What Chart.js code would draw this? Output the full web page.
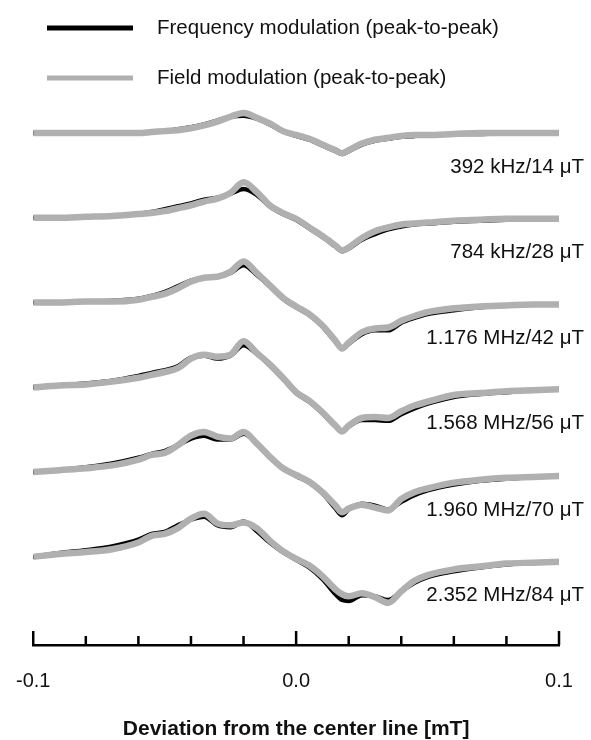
<!DOCTYPE html>
<html>
<head>
<meta charset="utf-8">
<script src="https://cdn.jsdelivr.net/npm/chart.js@4.4.1/dist/chart.umd.min.js"></script>
<style>
  html, body { margin: 0; padding: 0; background: #fff; }
</style>
</head>
<body>
<canvas id="myChart" width="591" height="740"></canvas>
<script>
// field axis, mT from the center line
let xValues = [-0.1, -0.09, -0.08, -0.07, -0.06, -0.055, -0.05, -0.045, -0.04, -0.035, -0.03, -0.025,
               -0.02, -0.015, -0.01, -0.005, 0, 0.005, 0.01, 0.015, 0.0175, 0.02, 0.025, 0.03,
               0.035, 0.04, 0.045, 0.05, 0.06, 0.07, 0.08, 0.09, 0.1];

let modLabels = ["392 kHz/14 \u03bcT", "784 kHz/28 \u03bcT", "1.176 MHz/42 \u03bcT",
                 "1.568 MHz/56 \u03bcT", "1.960 MHz/70 \u03bcT", "2.352 MHz/84 \u03bcT"];

// frequency modulation signal (black), one list per trace
let freqMod = [
  [0, 0, 0, 0, 0, 1, 2, 4, 6, 9, 13, 17, 18, 15, 9, 2, -3, -7, -13, -19, -22, -19, -12, -8, -6, -4, -3, -2, -1, -1, 0, 0, 0],
  [0, 0, 1, 2, 4, 6, 9, 12, 15, 19, 21, 25, 30, 24, 12, 4, -2, -11, -20, -30, -35, -32, -23, -17, -12, -9, -7, -6, -4, -3, -2, -1, -1],
  [0, 0, 1, 2, 4, 7, 11, 17, 23, 26, 27, 31, 39, 29, 17, 4, -5, -13, -25, -41, -47, -43, -33, -29, -29, -21, -16, -12, -8, -5, -3, -2, -2],
  [0, 2, 4, 7, 12, 15, 18, 22, 31, 33, 30, 33, 44, 35, 23, 9, -6, -15, -27, -41, -46, -41, -34, -34, -35, -28, -22, -17, -10, -7, -5, -3, -2],
  [0, 2, 5, 9, 15, 19, 22, 28, 35, 38, 34, 34, 40, 30, 16, 4, -4, -11, -22, -38, -45, -39, -33, -35, -39, -31, -24, -19, -13, -9, -7, -5, -4],
  [0, 4, 7, 11, 18, 24, 26, 33, 39, 42, 33, 31, 37, 27, 15, 5, -3, -11, -23, -39, -45, -46, -40, -41, -45, -36, -27, -21, -15, -11, -8, -6, -5]
];

// field modulation signal (gray)
let fieldMod = [
  [0, 0, 0, 0, 0, 1, 2, 3, 5, 8, 12, 17, 21, 16, 10, 2, -2, -6, -12, -18, -21, -18, -11, -7, -5, -3, -2, -2, -1, 0, 0, 0, 0],
  [0, 0, 1, 2, 4, 5, 7, 10, 13, 17, 20, 26, 37, 27, 13, 5, -1, -10, -19, -29, -34, -31, -21, -14, -10, -7, -6, -5, -3, -2, -1, -1, -1],
  [0, 0, 1, 1, 3, 6, 9, 15, 22, 26, 27, 32, 43, 31, 18, 5, -4, -12, -24, -40, -48, -42, -31, -27, -26, -19, -14, -10, -6, -4, -3, -2, -2],
  [0, 2, 3, 6, 10, 13, 16, 20, 30, 34, 32, 34, 48, 36, 24, 10, -5, -14, -26, -40, -46, -40, -32, -31, -32, -25, -19, -15, -8, -6, -4, -3, -2],
  [0, 2, 4, 7, 13, 18, 20, 28, 38, 42, 37, 35, 42, 30, 16, 4, -3, -10, -21, -35, -42, -38, -34, -37, -40, -28, -21, -17, -11, -8, -6, -5, -4],
  [0, 3, 5, 8, 15, 22, 24, 30, 40, 45, 35, 33, 36, 30, 17, 6, -2, -9, -20, -34, -39, -41, -38, -42, -48, -36, -25, -19, -13, -10, -7, -6, -5]
];

let tickLabels = ["-0.1", "0.0", "0.1"];
let legendNames = ["Frequency modulation (peak-to-peak)", "Field modulation (peak-to-peak)"];

let black = "#000000";
let gray = "#b0b0b0";
let font = "'Liberation Sans', Arial, Helvetica, sans-serif";

// vertical stacking of the traces (y units)
let traceGap = 88.5;
function traceBase(i) { return (5 - i) * traceGap + 92; }

function series(values, i) {
  return xValues.map((x, j) => ({ x: x, y: traceBase(i) + values[j] }));
}

let datasets = [];
for (let i = 0; i < 6; i++) {
  datasets.push({
    label: legendNames[1], data: series(fieldMod[i], i), borderColor: gray,
    borderWidth: 6.5, borderCapStyle: "butt", order: 1
  });
  datasets.push({
    label: legendNames[0], data: series(freqMod[i], i), borderColor: black,
    borderWidth: 4.5, borderCapStyle: "square", order: 2
  });
}

function tickText(v) {
  if (Math.abs(v) < 1e-9) return tickLabels[1];
  if (Math.abs(v + 0.1) < 1e-9) return tickLabels[0];
  if (Math.abs(v - 0.1) < 1e-9) return tickLabels[2];
  return "";
}

// inward tick marks on the bottom axis
let innerTicks = {
  id: "innerTicks",
  afterDraw(chart) {
    let sx = chart.scales.x, ctx = chart.ctx, y0 = chart.chartArea.bottom;
    ctx.save();
    ctx.strokeStyle = black;
    ctx.lineWidth = 2.5;
    sx.ticks.forEach(t => {
      let px = sx.getPixelForValue(t.value);
      let len = tickText(t.value) ? 14 : 9;
      ctx.beginPath();
      ctx.moveTo(px, y0);
      ctx.lineTo(px, y0 - len);
      ctx.stroke();
    });
    ctx.restore();
  }
};

// legend and trace labels
let annotations = {
  id: "annotations",
  afterDraw(chart) {
    let ctx = chart.ctx, sy = chart.scales.y;
    ctx.save();
    ctx.font = "20.5px " + font;
    ctx.textBaseline = "middle";
    ctx.fillStyle = "#111";
    [[black, 28], [gray, 78]].forEach((it, k) => {
      ctx.strokeStyle = it[0];
      ctx.lineWidth = 5;
      ctx.beginPath();
      ctx.moveTo(47, it[1]);
      ctx.lineTo(133, it[1]);
      ctx.stroke();
      ctx.textAlign = "left";
      ctx.fillText(legendNames[k], 157, it[1]);
    });
    ctx.textAlign = "right";
    for (let i = 0; i < 6; i++) {
      let last = traceBase(i) + fieldMod[i][xValues.length - 1];
      ctx.fillText(modLabels[i], 584, sy.getPixelForValue(last) + 34);
    }
    ctx.restore();
  }
};

new Chart("myChart", {
  type: "line",
  data: { datasets: datasets },
  options: {
    responsive: false,
    animation: false,
    devicePixelRatio: 1,
    layout: { padding: { left: 24, right: 32, top: 100, bottom: 0 } },
    elements: { point: { radius: 0 }, line: { tension: 0.4, cubicInterpolationMode: "monotone" } },
    plugins: { legend: { display: false }, tooltip: { enabled: false } },
    scales: {
      x: {
        type: "linear", min: -0.1, max: 0.1,
        grid: { display: false },
        border: { display: true, color: black, width: 2.5 },
        ticks: {
          stepSize: 0.02, autoSkip: false, maxRotation: 0, padding: 16,
          color: "#111", font: { family: font, size: 20 },
          callback: v => tickText(v)
        },
        title: {
          display: true, text: "Deviation from the center line [mT]", color: "#111",
          font: { family: font, size: 21, weight: "bold", lineHeight: 1 },
          padding: { top: 10, bottom: 0 }
        }
      },
      y: { display: false, min: 0, max: 569 }
    }
  },
  plugins: [innerTicks, annotations]
});
</script>
</body>
</html>
